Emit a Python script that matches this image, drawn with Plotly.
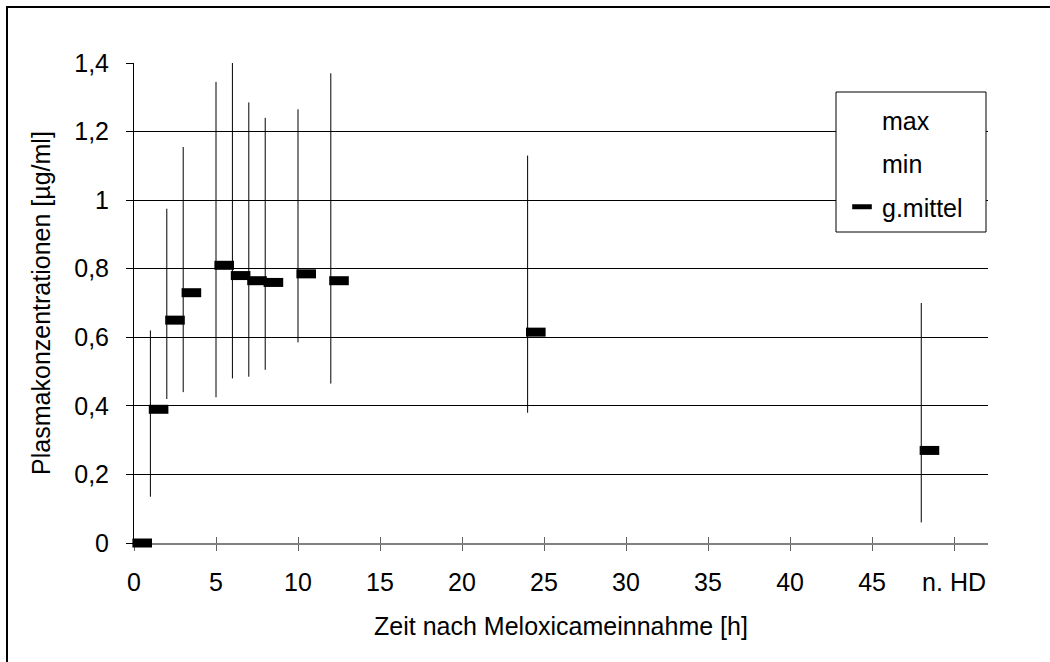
import plotly.graph_objects as go

# ---- data ----
times = [0, 1, 2, 3, 5, 6, 7, 8, 10, 12, 24, 48]
g_mittel = [0.0, 0.39, 0.65, 0.73, 0.81, 0.78, 0.765, 0.76, 0.785, 0.765, 0.615, 0.27]
max_vals = [0.0, 0.62, 0.975, 1.155, 1.345, 1.40, 1.285, 1.24, 1.265, 1.37, 1.13, 0.70]
min_vals = [0.0, 0.135, 0.42, 0.44, 0.425, 0.48, 0.485, 0.505, 0.585, 0.465, 0.38, 0.06]

x_tickvals = [0, 5, 10, 15, 20, 25, 30, 35, 40, 45, 50]
x_ticktext = ["0", "5", "10", "15", "20", "25", "30", "35", "40", "45", "n. HD"]
y_tickvals = [0, 0.2, 0.4, 0.6, 0.8, 1.0, 1.2, 1.4]
y_ticktext = ["0", "0,2", "0,4", "0,6", "0,8", "1", "1,2", "1,4"]

MARKER_OFFSET = 0.5  # mean markers drawn half a unit right of the range line

FONT = "Liberation Sans, Arial, sans-serif"
FS = 25

fig = go.Figure()

# range lines (min -> max)
rx, ry = [], []
for t, lo, hi in zip(times, min_vals, max_vals):
    rx += [t, t, None]
    ry += [lo, hi, None]
fig.add_trace(go.Scatter(x=rx, y=ry, mode="lines", line=dict(color="black", width=1),
                         showlegend=False, hoverinfo="skip"))

fig.add_trace(go.Scatter(x=times, y=max_vals, mode="markers", name="max",
                         marker=dict(color="rgba(0,0,0,0)", size=1), legendgroup="a"))
fig.add_trace(go.Scatter(x=times, y=min_vals, mode="markers", name="min",
                         marker=dict(color="rgba(0,0,0,0)", size=1), legendgroup="b"))
fig.add_trace(go.Scatter(x=[t + MARKER_OFFSET for t in times], y=g_mittel, mode="markers",
                         name="g.mittel", legendgroup="c", cliponaxis=False,
                         marker=dict(symbol="line-ew", size=14, color="black",
                                     line=dict(color="black", width=9))))
# helper trace for the inner half of the x tick marks
fig.add_trace(go.Scatter(x=[None], y=[None], xaxis="x2", showlegend=False, hoverinfo="skip"))

L, R, T, B = 134, 62, 63, 119
W, H = 1050, 662
pw, ph = W - L - R, H - T - B


def px_x(p):
    return (p - L) / pw


def px_y(p):
    return (H - B - p) / ph


fig.update_layout(
    width=W, height=H,
    margin=dict(l=L, r=R, t=T, b=B),
    paper_bgcolor="white", plot_bgcolor="white",
    font=dict(family=FONT, size=FS, color="black"),
    xaxis=dict(range=[0, 52.07], tickvals=x_tickvals, ticktext=x_ticktext,
               showgrid=False, zeroline=False, showline=True, linecolor="#808080", linewidth=2,
               ticks="outside", ticklen=6, tickcolor="#606060", tickwidth=1,
               ticklabelstandoff=10, layer="below traces",
               title=dict(text="Zeit nach Meloxicameinnahme [h]", standoff=22,
                          font=dict(size=FS))),
    xaxis2=dict(range=[0, 52.07], overlaying="x", anchor="y", side="bottom",
                tickvals=x_tickvals, showticklabels=False, showgrid=False, zeroline=False,
                showline=False, ticks="inside", ticklen=6, tickcolor="#606060", tickwidth=1),
    yaxis=dict(range=[0, 1.4], tickvals=y_tickvals, ticktext=y_ticktext,
               showgrid=True, gridcolor="black", gridwidth=1, zeroline=False,
               showline=True, linecolor="black", linewidth=1,
               ticks="outside", ticklen=7, tickcolor="black",
               ticklabelstandoff=12, layer="below traces",
               title=dict(text="Plasmakonzentrationen [µg/ml]", standoff=16,
                          font=dict(size=FS))),
    legend=dict(x=px_x(842), y=px_y(97), xanchor="left", yanchor="top",
                borderwidth=0, bgcolor="rgba(0,0,0,0)",
                font=dict(size=FS), traceorder="grouped", tracegroupgap=8,
                itemwidth=30),
    shapes=[
        # outer frame
        dict(type="rect", xref="paper", yref="paper",
             x0=px_x(7), x1=px_x(W + 20), y0=px_y(H + 20), y1=px_y(7),
             line=dict(color="black", width=2), layer="below"),
        # legend box
        dict(type="rect", xref="paper", yref="paper",
             x0=px_x(836), x1=px_x(986), y0=px_y(232), y1=px_y(92),
             line=dict(color="black", width=1), fillcolor="white", layer="above"),
    ],
)

fig.write_html("out.html", config={"displayModeBar": False},
               post_script="document.body.style.margin='0';document.body.style.overflow='hidden';")
